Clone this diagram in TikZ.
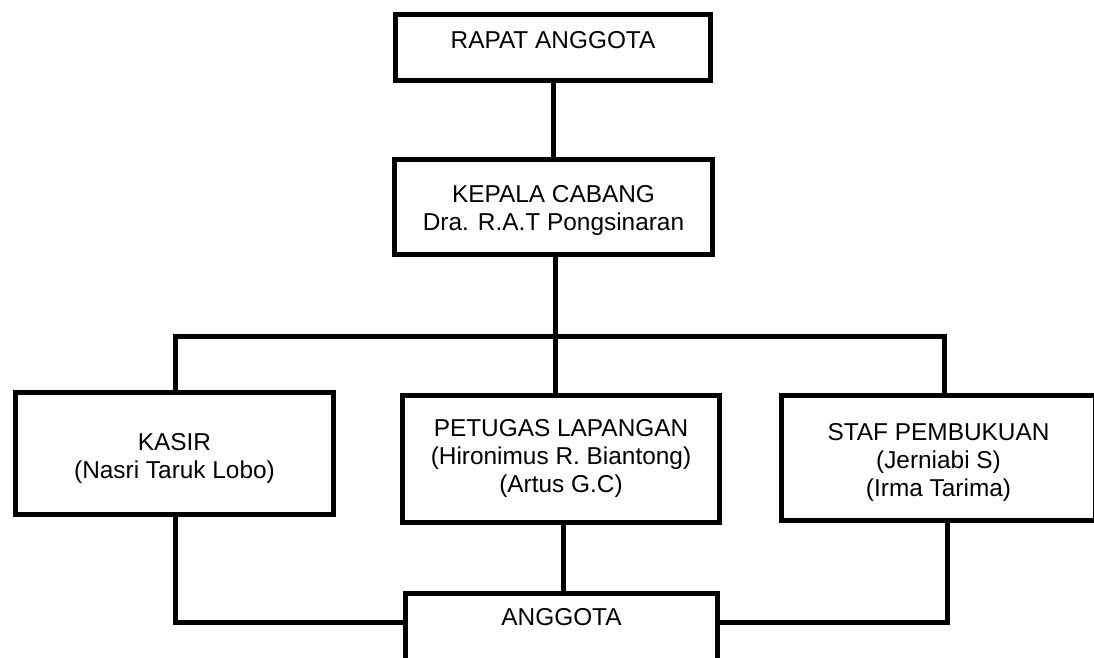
\documentclass[tikz,border=0pt]{standalone}
\usepackage{fontspec}
\setmainfont{Liberation Sans}
\newcommand\mltext[2]{\raisebox{#1}[0pt][0pt]{\begin{tabular}[b]{@{}c@{}}#2\end{tabular}}}
\begin{document}
\begin{tikzpicture}[x=1pt,y=-1pt,
  orgbox/.style={draw=black, line width=5pt, fill=white, inner sep=0pt,
    font=\fontsize{24.4pt}{28pt}\selectfont},
  link/.style={draw=black, line width=5pt}]
\clip (0,0) rectangle (1094,658);
\fill[white] (0,0) rectangle (1094,658);
% boxes
\node[orgbox, minimum width=315pt, minimum height=66pt] (rapat) at (553,47.5)
  {\mltext{-1pt}{RAPAT ANGGOTA}};
\node[orgbox, minimum width=318pt, minimum height=95pt] (kepala) at (553.5,207)
  {\mltext{-23.5pt}{KEPALA CABANG\\Dra. R.A.T Pongsinaran}};
\node[orgbox, minimum width=318pt, minimum height=122pt] (kasir) at (174.5,453.5)
  {\mltext{-25pt}{KASIR\\(Nasri Taruk Lobo)}};
\node[orgbox, minimum width=317pt, minimum height=127pt] (petugas) at (561,459)
  {\mltext{-33.5pt}{PETUGAS LAPANGAN\\(Hironimus R. Biantong)\\(Artus G.C)}};
\node[orgbox, minimum width=314pt, minimum height=125pt] (staf) at (938.5,458)
  {\mltext{-38.5pt}{STAF PEMBUKUAN\\(Jerniabi S)\\(Irma Tarima)}};
\node[orgbox, minimum width=312pt, minimum height=104pt] (anggota) at (561.5,645.5)
  {\mltext{20pt}{ANGGOTA}};
% connector coordinates
\coordinate (hub) at (555,336);
\coordinate (barL) at (175,336);
\coordinate (barR) at (944,336);
\coordinate (lowL) at (175,622);
\coordinate (lowR) at (947,622);
\coordinate (mid) at (563,600);
% connectors
\draw[link] (rapat.south) -- (rapat.south |- kepala.north);
\draw[link] (hub |- kepala.south) -- (hub |- petugas.north);
\draw[link] (kasir.north -| barL) -- (barL) -- (barR) -- (staf.north -| barR);
\draw[link] (kasir.south -| lowL) -- (lowL) -- (lowL -| anggota.west);
\draw[link] (petugas.south -| mid) -- (anggota.north -| mid);
\draw[link] (staf.south -| lowR) -- (lowR) -- (lowR -| anggota.east);
\end{tikzpicture}
\end{document}
